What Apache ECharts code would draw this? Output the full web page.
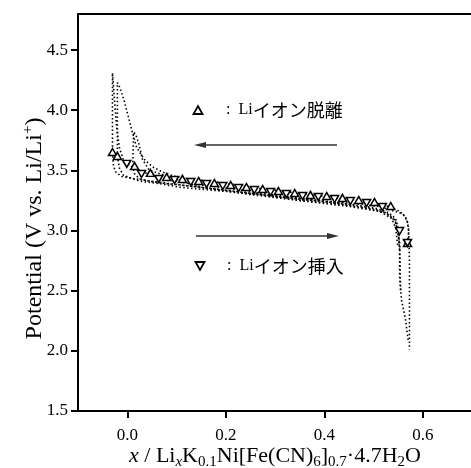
<!DOCTYPE html>
<html>
<head>
<meta charset="utf-8">
<script src="https://cdn.jsdelivr.net/npm/echarts@6/dist/echarts.min.js"></script>
<style>
  html, body { margin: 0; padding: 0; background: #fff; }
  #chart { width: 471px; height: 468px; }
</style>
</head>
<body>
<div id="chart"></div>
<script>
// charge curves (Li extraction), read right -> left
const c1X = [0.571, 0.571, 0.569, 0.563, 0.553, 0.533, 0.492, 0.431, 0.350, 0.269, 0.187, 0.127, 0.096, 0.070, 0.051, 0.035, 0.019, 0.011, 0.005, -0.005, -0.014, -0.020, -0.020]
const c1V = [2.90, 3.02, 3.07, 3.12, 3.16, 3.20, 3.23, 3.27, 3.31, 3.35, 3.40, 3.43, 3.45, 3.49, 3.53, 3.59, 3.69, 3.81, 3.90, 4.06, 4.18, 4.23, 3.62]
const c2X = [0.553, 0.551, 0.545, 0.533, 0.502, 0.451, 0.370, 0.289, 0.208, 0.147, 0.096, 0.056, 0.025, 0.005, -0.008, -0.016, -0.022, -0.026, -0.028, -0.030, -0.030]
const c2V = [2.84, 2.96, 3.07, 3.13, 3.18, 3.21, 3.26, 3.30, 3.35, 3.38, 3.41, 3.45, 3.50, 3.54, 3.59, 3.69, 3.88, 4.09, 4.21, 4.31, 3.65]
const c3X = [0.549, 0.545, 0.537, 0.512, 0.451, 0.350, 0.248, 0.147, 0.076, 0.045, 0.031, 0.023, 0.017, 0.013, 0.011]
const c3V = [2.88, 3.02, 3.10, 3.16, 3.20, 3.25, 3.30, 3.36, 3.46, 3.50, 3.59, 3.73, 3.80, 3.82, 3.54]

// discharge curves (Li insertion), read left -> right
const d1X = [-0.020, -0.016, -0.008, 0.005, 0.025, 0.066, 0.106, 0.187, 0.269, 0.350, 0.431, 0.492, 0.523, 0.543, 0.549, 0.553, 0.553, 0.557, 0.565, 0.571]
const d1V = [3.62, 3.52, 3.46, 3.44, 3.41, 3.39, 3.36, 3.33, 3.30, 3.25, 3.22, 3.18, 3.15, 3.09, 3.00, 2.86, 2.61, 2.42, 2.26, 2.07]
const d2X = [-0.030, -0.028, -0.024, -0.012, 0.015, 0.066, 0.147, 0.228, 0.310, 0.390, 0.472, 0.512, 0.543, 0.559, 0.567, 0.571, 0.573, 0.573, 0.573]
const d2V = [3.65, 3.54, 3.49, 3.45, 3.43, 3.40, 3.36, 3.32, 3.28, 3.25, 3.22, 3.20, 3.16, 3.14, 3.10, 3.02, 2.76, 2.42, 2.01]
const d3X = [0.011, 0.015, 0.025, 0.045, 0.080, 0.150, 0.250, 0.350, 0.450, 0.500, 0.530, 0.545, 0.550, 0.553, 0.555]
const d3V = [3.54, 3.47, 3.43, 3.41, 3.39, 3.36, 3.31, 3.26, 3.22, 3.19, 3.15, 3.10, 3.02, 2.90, 2.50]

// marker points
const upX = [-0.030, -0.020, 0.015, 0.047, 0.080, 0.112, 0.145, 0.177, 0.210, 0.242, 0.275, 0.307, 0.340, 0.372, 0.405, 0.437, 0.470, 0.502, 0.535, 0.569]
const upV = [3.653, 3.620, 3.537, 3.479, 3.445, 3.429, 3.412, 3.395, 3.379, 3.362, 3.345, 3.329, 3.312, 3.296, 3.287, 3.271, 3.254, 3.237, 3.204, 2.897]
const downX = [-0.001, 0.029, 0.064, 0.096, 0.129, 0.161, 0.194, 0.226, 0.258, 0.291, 0.323, 0.356, 0.388, 0.421, 0.453, 0.486, 0.518, 0.553, 0.569]
const downV = [3.554, 3.470, 3.429, 3.420, 3.404, 3.387, 3.370, 3.354, 3.337, 3.320, 3.304, 3.287, 3.279, 3.262, 3.246, 3.229, 3.196, 2.996, 2.897]

const xTicks = [0.0, 0.2, 0.4, 0.6]
const yTicks = [1.5, 2.0, 2.5, 3.0, 3.5, 4.0, 4.5]

const serif = "'Liberation Serif', 'Times New Roman', serif"
const cjk = "'Noto Sans CJK JP', sans-serif"

const pairs = (xs, vs) => xs.map((x, i) => [x, vs[i]])

const dotted = (xs, vs) => ({
  type: 'line',
  data: pairs(xs, vs),
  showSymbol: false,
  smooth: false,
  silent: true,
  z: 2,
  lineStyle: { color: '#000', width: 1.6, type: [1.5, 2.4] }
})

const tri = (xs, vs, rot) => ({
  type: 'scatter',
  data: pairs(xs, vs),
  symbol: 'triangle',
  symbolRotate: rot,
  symbolSize: [8, 7],
  z: 5,
  itemStyle: { color: '#fff', borderColor: '#000', borderWidth: 1.5, opacity: 1 }
})

const legendText = {
  lat: { fontFamily: serif, fontSize: 16, color: '#000' },
  jp: { fontFamily: cjk, fontSize: 18, color: '#000' }
}

const chart = echarts.init(document.getElementById('chart'))

const option = {
  animation: false,
  backgroundColor: '#fff',
  grid: { left: 78, top: 14, width: 394, height: 397, outerBoundsMode: 'none', containLabel: false },
  xAxis: [
    {
      type: 'value',
      min: -0.1,
      max: 0.7,
      position: 'bottom',
      name: '{it|x} / Li{subit|x}K{sub|0.1}Ni[Fe(CN){sub|6}]{sub|0.7}·4.7H{sub|2}O',
      nameLocation: 'middle',
      nameMoveOverlap: false,
      nameGap: 31,
      nameTextStyle: {
        color: '#000', fontFamily: serif, fontSize: 22, lineHeight: 28,
        rich: {
          it: { fontFamily: serif, fontSize: 22, fontStyle: 'italic', color: '#000' },
          sub: { fontFamily: serif, fontSize: 15, lineHeight: 14, verticalAlign: 'bottom', color: '#000' },
          subit: { fontFamily: serif, fontSize: 15, lineHeight: 14, verticalAlign: 'bottom', fontStyle: 'italic', color: '#000' }
        }
      },
      axisLine: { onZero: false, lineStyle: { color: '#000', width: 2 } },
      axisTick: { customValues: xTicks, length: 7, lineStyle: { color: '#000', width: 2 } },
      axisLabel: {
        customValues: xTicks,
        formatter: v => v.toFixed(1),
        color: '#000', fontFamily: serif, fontSize: 17, margin: 16
      },
      splitLine: { show: false }
    },
    {
      type: 'value',
      min: -0.1,
      max: 0.7,
      position: 'top',
      axisLine: { show: true, onZero: false, lineStyle: { color: '#000', width: 2 } },
      axisTick: { show: false },
      axisLabel: { show: false },
      splitLine: { show: false }
    }
  ],
  yAxis: {
    type: 'value',
    min: 1.5,
    max: 4.8,
    name: 'Potential (V vs. Li/Li{sup|+})',
    nameLocation: 'middle',
    nameMoveOverlap: false,
    nameGap: 29,
    nameTextStyle: {
      color: '#000', fontFamily: serif, fontSize: 24, lineHeight: 28,
      padding: [0, 32, 0, 0],
      rich: {
        sup: { fontFamily: serif, fontSize: 15, lineHeight: 14, verticalAlign: 'top', color: '#000' }
      }
    },
    axisLine: { show: true, onZero: false, lineStyle: { color: '#000', width: 2 } },
    axisTick: { customValues: yTicks, length: 7, lineStyle: { color: '#000', width: 2 } },
    axisLabel: {
      customValues: yTicks,
      formatter: v => v.toFixed(1),
      color: '#000', fontFamily: serif, fontSize: 17, margin: 10
    },
    splitLine: { show: false }
  },
  series: [
    dotted(c1X, c1V),
    dotted(c2X, c2V),
    dotted(c3X, c3V),
    dotted(d1X, d1V),
    dotted(d2X, d2V),
    dotted(d3X, d3V),
    tri(upX, upV, 0),
    tri(downX, downV, 180)
  ],
  graphic: [
    // extraction legend + arrow
    { type: 'polygon', shape: { points: [[193.5, 114], [202.5, 114], [198, 106]] }, style: { fill: 'none', stroke: '#000', lineWidth: 1.8 } },
    { type: 'text', x: 226, y: 110, style: { text: '{lat|:  Li}{jp|イオン脱離}', rich: legendText, verticalAlign: 'middle' } },
    { type: 'line', shape: { x1: 337, y1: 145, x2: 202, y2: 145 }, style: { stroke: '#333', lineWidth: 1.6 } },
    { type: 'polygon', shape: { points: [[194, 145], [206, 142], [206, 148]] }, style: { fill: '#333' } },
    // insertion legend + arrow
    { type: 'polygon', shape: { points: [[195.5, 262], [204.5, 262], [200, 270]] }, style: { fill: 'none', stroke: '#000', lineWidth: 1.8 } },
    { type: 'text', x: 227, y: 266, style: { text: '{lat|:  Li}{jp|イオン挿入}', rich: legendText, verticalAlign: 'middle' } },
    { type: 'line', shape: { x1: 196, y1: 236, x2: 331, y2: 236 }, style: { stroke: '#333', lineWidth: 1.6 } },
    { type: 'polygon', shape: { points: [[339, 236], [327, 233], [327, 239]] }, style: { fill: '#333' } }
  ]
}

chart.setOption(option)
</script>
</body>
</html>
